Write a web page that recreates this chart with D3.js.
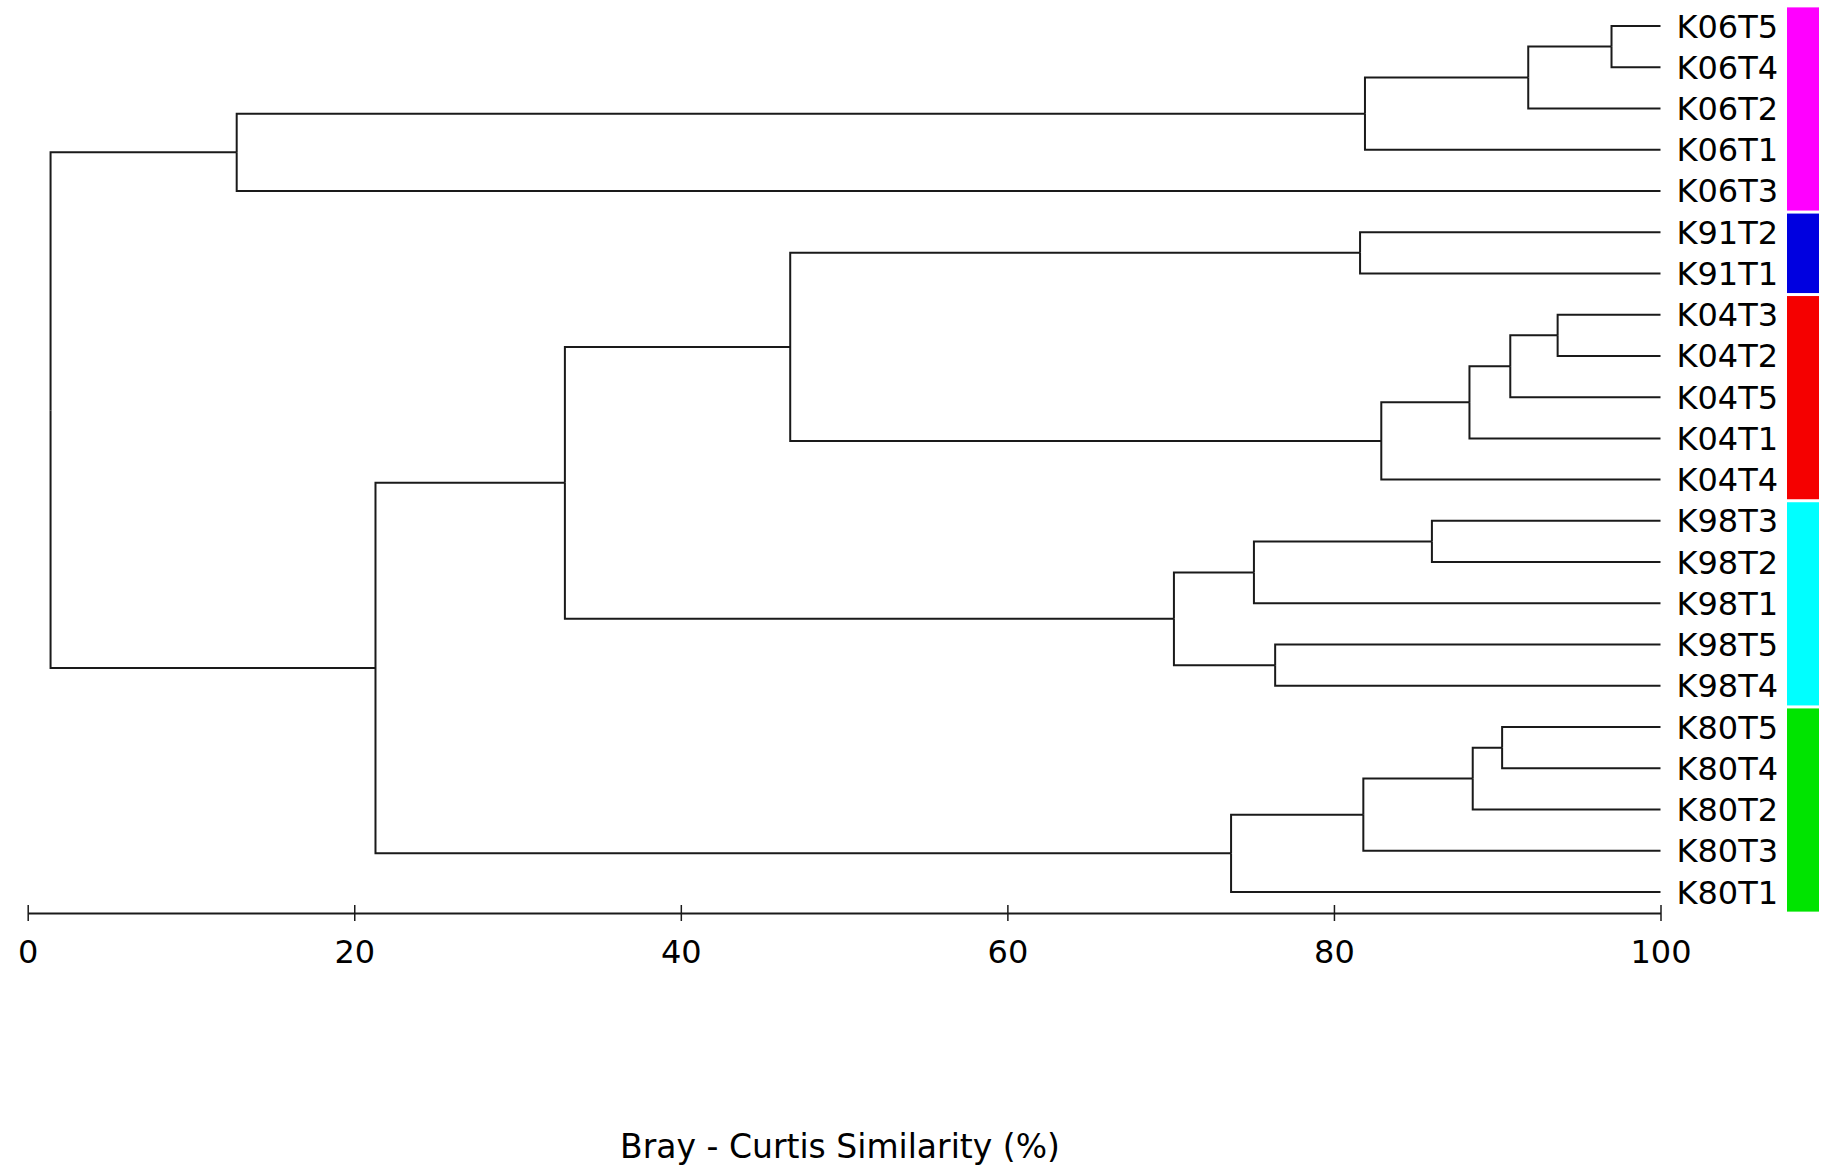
<!DOCTYPE html>
<html>
<head>
<meta charset="utf-8">
<script src="https://cdn.jsdelivr.net/npm/d3@7"></script>
<style>
  body { margin: 0; background: #fff; }
  text { font-family: "DejaVu Sans", Verdana, sans-serif; fill: #000; }
</style>
</head>
<body>
<div id="chart"></div>
<script>
// leaves, top to bottom
var leaves = ["K06T5", "K06T4", "K06T2", "K06T1", "K06T3",
              "K91T2", "K91T1",
              "K04T3", "K04T2", "K04T5", "K04T1", "K04T4",
              "K98T3", "K98T2", "K98T1", "K98T5", "K98T4",
              "K80T5", "K80T4", "K80T2", "K80T3", "K80T1"];

// merges: [node, left child, right child, similarity %]
var joins = [
    ["a", "K06T5", "K06T4", 97.0],
    ["b", "a", "K06T2", 91.9],
    ["c", "b", "K06T1", 81.9],
    ["d", "c", "K06T3", 12.8],
    ["e", "K91T2", "K91T1", 81.6],
    ["f", "K04T3", "K04T2", 93.7],
    ["g", "f", "K04T5", 90.8],
    ["h", "g", "K04T1", 88.3],
    ["i", "h", "K04T4", 82.9],
    ["j", "e", "i", 46.7],
    ["k", "K98T3", "K98T2", 86.0],
    ["l", "k", "K98T1", 75.1],
    ["m", "K98T5", "K98T4", 76.4],
    ["n", "l", "m", 70.2],
    ["o", "j", "n", 32.9],
    ["p", "K80T5", "K80T4", 90.3],
    ["q", "p", "K80T2", 88.5],
    ["r", "q", "K80T3", 81.8],
    ["s", "r", "K80T1", 73.7],
    ["t", "o", "s", 21.3],
    ["root", "d", "t", 1.4]
];

var groups = ["K06", "K91", "K04", "K98", "K80"];
var groupColors = ["#ff00ff", "#0000e0", "#f50000", "#00ffff", "#00e400"];
var xTicks = [0, 20, 40, 60, 80, 100];
var axisTitle = "Bray - Curtis Similarity (%)";

var width = 1821, height = 1167;
var axisY = 913;

var svg = d3.select('#chart').append('svg')
    .attr('width', width)
    .attr('height', height);

var x = d3.scaleLinear().domain([0, 100]).range([27.7, 1660.5]);
var y = d3.scalePoint().domain(leaves).range([26, 892]);
var color = d3.scaleOrdinal().domain(groups).range(groupColors);

// build the tree
var parentOf = {};
var simOf = {};
leaves.forEach(function(l) { simOf[l] = 100; });
joins.forEach(function(j) {
    parentOf[j[1]] = j[0];
    parentOf[j[2]] = j[0];
    simOf[j[0]] = j[3];
});
var rows = leaves.concat(joins.map(function(j) { return j[0]; }))
    .map(function(id) { return { id: id }; });

var root = d3.stratify()
    .id(function(d) { return d.id; })
    .parentId(function(d) { return parentOf[d.id]; })(rows);

root.eachAfter(function(n) {
    n.sim = simOf[n.id];
    n.py = n.children ? d3.mean(n.children, function(c) { return c.py; }) : y(n.id);
});

// elbow links
svg.append('g')
    .selectAll('path')
    .data(root.links())
    .enter()
    .append('path')
    .attr('d', function(l) {
        return 'M' + x(l.source.sim) + ',' + l.source.py +
               'V' + l.target.py + 'H' + x(l.target.sim);
    })
    .attr('fill', 'none')
    .attr('stroke', '#1a1a1a')
    .attr('stroke-width', 2);

// leaf labels
svg.append('g')
    .selectAll('text')
    .data(leaves)
    .enter()
    .append('text')
    .attr('x', x(100) + 16)
    .attr('y', function(d) { return y(d); })
    .attr('dy', '0.36em')
    .style('font-size', '32px')
    .text(function(d) { return d; });

// group colour bars
var step = y.step();
svg.append('g')
    .selectAll('rect')
    .data(groups)
    .enter()
    .append('rect')
    .attr('x', 1787)
    .attr('width', 32)
    .attr('y', function(g) {
        var ls = leaves.filter(function(l) { return l.slice(0, 3) === g; });
        return y(ls[0]) - step / 2 + 2;
    })
    .attr('height', function(g) {
        var ls = leaves.filter(function(l) { return l.slice(0, 3) === g; });
        return y(ls[ls.length - 1]) - y(ls[0]) + step - 3;
    })
    .attr('fill', function(g) { return color(g); });

// axis
var xAxis = d3.axisBottom(x)
    .tickValues(xTicks)
    .tickSizeInner(8)
    .tickSizeOuter(0);

var ax = svg.append('g')
    .attr('transform', 'translate(0,' + axisY + ')')
    .call(xAxis);
ax.select('.domain').attr('stroke', '#1a1a1a').attr('stroke-width', 2);
ax.selectAll('.tick line')
    .attr('y1', -8)
    .attr('y2', 8)
    .attr('stroke', '#1a1a1a')
    .attr('stroke-width', 1.5);
ax.selectAll('.tick text')
    .attr('y', 38)
    .attr('dy', '0.36em')
    .attr('fill', '#000')
    .style('font-size', '32px')
    .style('font-family', '"DejaVu Sans", Verdana, sans-serif');

svg.append('text')
    .attr('x', 840)
    .attr('y', 1146)
    .attr('dy', '0.36em')
    .attr('text-anchor', 'middle')
    .style('font-size', '33px')
    .text(axisTitle);
</script>
</body>
</html>
